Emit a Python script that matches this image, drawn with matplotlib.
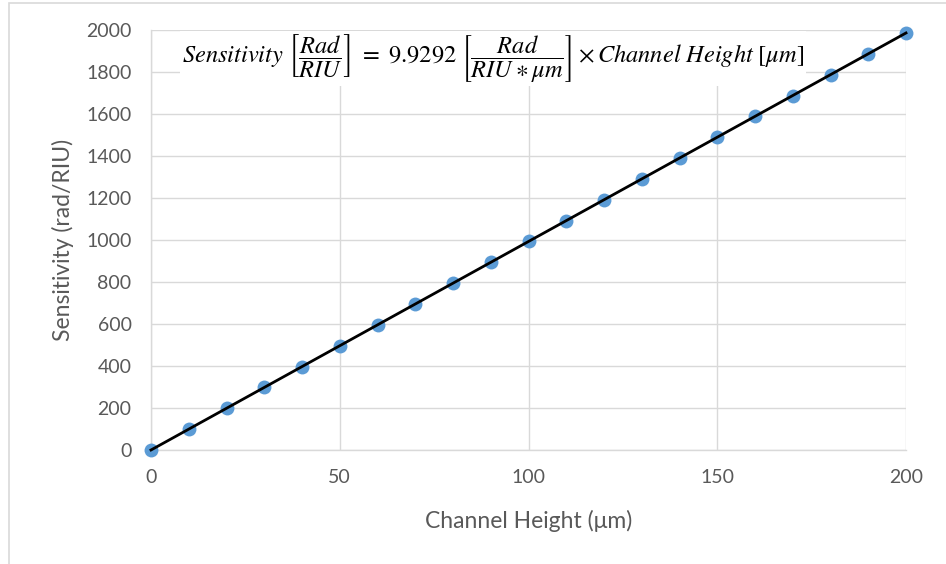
import matplotlib.pyplot as plt
import matplotlib.patches as mpatches
import numpy as np

# channel height (um) and measured sensitivity (rad/RIU)
heights = [0, 10, 20, 30, 40, 50, 60, 70, 80, 90, 100,
           110, 120, 130, 140, 150, 160, 170, 180, 190, 200]
sensitivity = [0, 99, 199, 298, 397, 496, 596, 695, 794, 894, 993,
               1092, 1192, 1291, 1390, 1489, 1589, 1688, 1787, 1887, 1986]
slope = 9.9292
x_ticks = [0, 50, 100, 150, 200]
y_ticks = list(range(0, 2001, 200))

plt.rcParams['font.family'] = ['Lato', 'DejaVu Sans']
plt.rcParams['mathtext.fontset'] = 'stix'

GRID = '#d9d9d9'
TXT = '#595959'

fig = plt.figure(figsize=(9.46, 5.64), dpi=100)
# outer chart border
fig.patches.append(mpatches.Rectangle((9 / 946, -0.01), 1.0, 1 - 2.5 / 564 + 0.01,
                                      transform=fig.transFigure, fill=False,
                                      edgecolor=GRID, linewidth=1.2))

ax = fig.add_axes([151 / 946, 1 - 450 / 564, (906 - 151) / 946, (450 - 30) / 564])

ax.scatter(heights, sensitivity, s=100, color='#5b9bd5', zorder=3,
           linewidths=0, clip_on=False)
xl = np.array([heights[0], heights[-1]])
ax.plot(xl, slope * xl, color='black', linewidth=2.0, zorder=4, clip_on=False)

ax.set_xlim(0, 200)
ax.set_ylim(0, 2000)
ax.set_xticks(x_ticks)
ax.set_yticks(y_ticks)
ax.grid(True, color=GRID, linewidth=1.0)
ax.set_axisbelow(True)
for s in ['top', 'right']:
    ax.spines[s].set_visible(False)
for s in ['left', 'bottom']:
    ax.spines[s].set_color(GRID)
    ax.spines[s].set_linewidth(1.0)
ax.tick_params(length=0, labelsize=14, labelcolor=TXT)
ax.tick_params(axis='x', pad=14)
ax.tick_params(axis='y', pad=14)

ax.set_xlabel('Channel Height (\u03bcm)', fontsize=16.5, color=TXT, labelpad=17)
ax.set_ylabel('Sensitivity (rad/RIU)', fontsize=16.5, color=TXT, labelpad=9)

eq = (r'$\mathit{Sensitivity}\ \left[\dfrac{\mathit{Rad}}{\mathit{RIU}}\right]\ =\ 9.9292\ '
      r'\left[\dfrac{\mathit{Rad}}{\mathit{RIU} \ast \mu m}\right] \times '
      r'\mathit{Channel\ Height}\ [\mu m]$')
ax.text(0.453, 0.933, eq, transform=ax.transAxes, ha='center', va='center',
        fontsize=17.6, color='black', zorder=5,
        bbox=dict(facecolor='white', edgecolor='none', pad=1))

fig.savefig('out.png', dpi=100)
